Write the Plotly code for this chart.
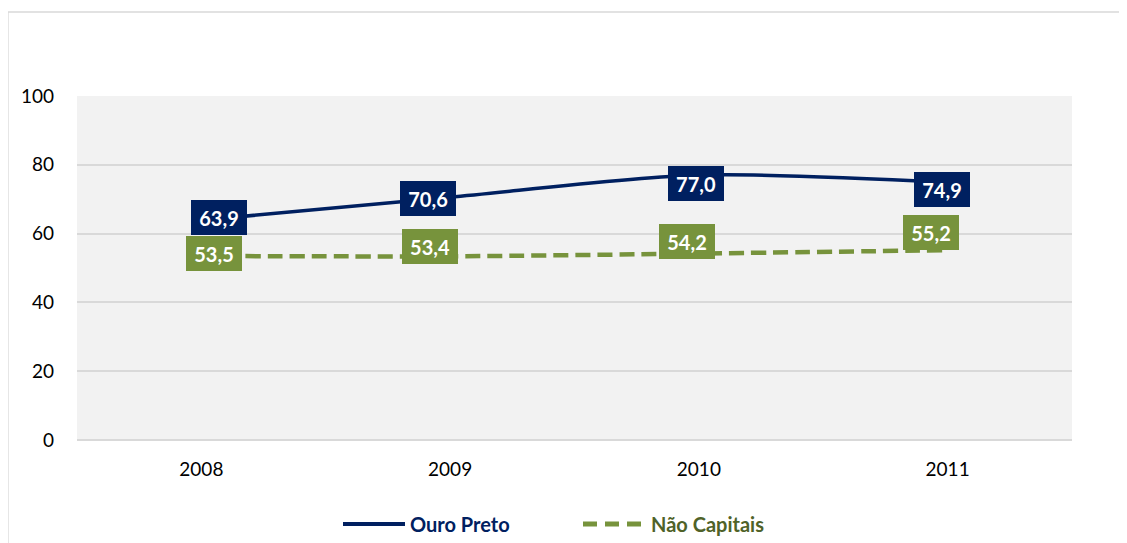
import plotly.graph_objects as go

years = ["2008", "2009", "2010", "2011"]
ouro_preto = [63.9, 70.6, 77.0, 74.9]
nao_capitais = [53.5, 53.4, 54.2, 55.2]
y_ticks = [0, 20, 40, 60, 80, 100]
series_names = ["Ouro Preto", "Não Capitais"]

NAVY = "#002060"
GREEN = "#77933C"
OLIVE = "#4F6228"
FONT = "Lato, Open Sans, sans-serif"

# label box offsets (px) relative to points, as drawn in the original
op_shift = [(18, 3), (-22, -1), (-3, -8), (-6, -7)]
nc_shift = [(13, 2), (-20, 10), (-12, 12), (-17, 18)]

def fmt(v):
    return f"{v:.1f}".replace(".", ",")

# page body has an 8px margin; compensate
OFF = 8
W, H = 1127 - OFF, 543 - OFF
L, R, T, B = 69, 55, 88, 103
pw, ph = W - L - R, H - T - B

def px(sx):
    return (sx - OFF - L) / pw

def py(sy):
    return 1 - (sy - OFF - T) / ph

fig = go.Figure()
fig.add_trace(go.Scatter(
    x=years, y=ouro_preto, mode="lines", name=series_names[0],
    line=dict(color=NAVY, width=3.5, shape="spline", smoothing=0.8),
))
fig.add_trace(go.Scatter(
    x=years, y=nao_capitais, mode="lines", name=series_names[1],
    line=dict(color=GREEN, width=4.5, dash="15px,7px", shape="spline", smoothing=0.8),
))

annotations = []
for vals, shifts, col in [(ouro_preto, op_shift, NAVY), (nao_capitais, nc_shift, GREEN)]:
    for i, (v, (dx, dy)) in enumerate(zip(vals, shifts)):
        annotations.append(dict(
            x=i, y=v, xref="x", yref="y", text=f"<b>{fmt(v)}</b>",
            showarrow=False, xshift=dx, yshift=dy,
            font=dict(family=FONT, size=20, color="white"),
            bgcolor=col, width=52, height=31, borderpad=2, borderwidth=0,
        ))

# manual legend
leg_y = 524
annotations.append(dict(xref="paper", yref="paper", x=px(408), y=py(leg_y),
                        xanchor="left", yanchor="middle", showarrow=False,
                        text=f"<b>{series_names[0]}</b>",
                        font=dict(family=FONT, size=20, color=NAVY)))
annotations.append(dict(xref="paper", yref="paper", x=px(649), y=py(leg_y),
                        xanchor="left", yanchor="middle", showarrow=False,
                        text=f"<b>{series_names[1]}</b>",
                        font=dict(family=FONT, size=20, color=OLIVE)))

shapes = [
    dict(type="rect", xref="paper", yref="paper",
         x0=px(8), x1=px(1140), y0=py(560), y1=py(12),
         line=dict(color="#D9D9D9", width=1.3), fillcolor="rgba(0,0,0,0)", layer="below"),
    dict(type="line", xref="paper", yref="paper", x0=px(343), x1=px(405),
         y0=py(leg_y), y1=py(leg_y), line=dict(color=NAVY, width=4)),
    dict(type="line", xref="paper", yref="paper", x0=px(583), x1=px(641),
         y0=py(leg_y), y1=py(leg_y), line=dict(color=GREEN, width=5, dash="14px,8px")),
]

fig.update_layout(
    width=W, height=H,
    margin=dict(l=L, r=R, t=T, b=B, autoexpand=False),
    paper_bgcolor="white", plot_bgcolor="#F2F2F2",
    font=dict(family=FONT, size=19, color="#000000"),
    showlegend=False,
    annotations=annotations,
    shapes=shapes,
    xaxis=dict(type="category", range=[-0.5, 3.5], showgrid=False, zeroline=False,
               showline=False, ticks="", tickfont=dict(size=19), ticklabelstandoff=16),
    yaxis=dict(range=[0, 100], tickvals=y_ticks, showgrid=True, gridcolor="#D9D9D9",
               gridwidth=2, zeroline=True, zerolinecolor="#D9D9D9", zerolinewidth=2,
               showline=False, ticks="", tickfont=dict(size=19), ticklabelstandoff=22),
)

fig.write_html("out.html")
